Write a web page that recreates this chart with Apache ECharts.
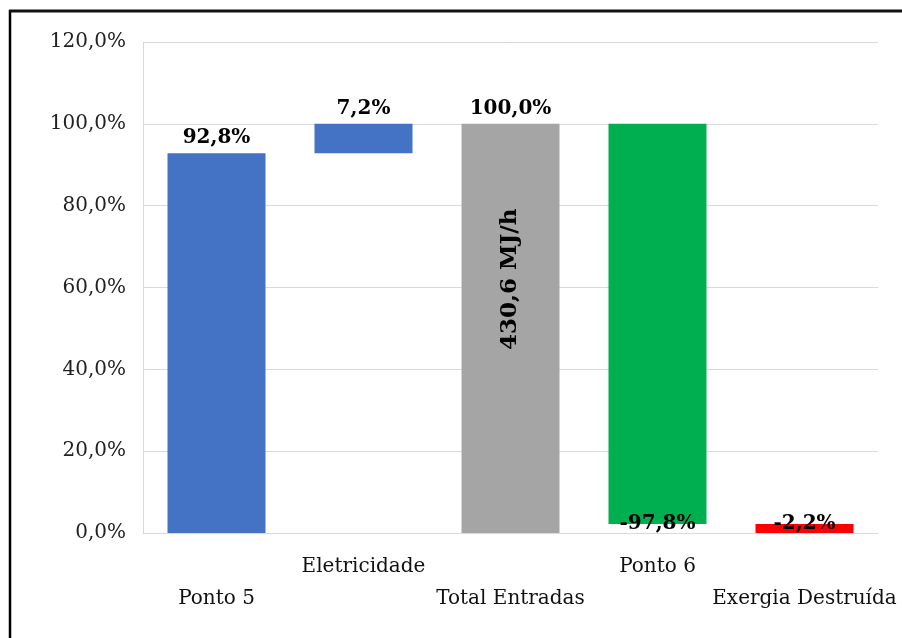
<!DOCTYPE html>
<html>
<head>
<meta charset="utf-8">
<script src="https://cdn.jsdelivr.net/npm/echarts@6/dist/echarts.min.js"></script>
<style>
  html, body { margin: 0; padding: 0; background: #fff; }
  #chart { width: 902px; height: 638px; }
</style>
</head>
<body>
<div id="chart"></div>
<script>
// Exergy balance (waterfall): inputs, total, outputs and destroyed exergy
const categories = ['Ponto 5', 'Eletricidade', 'Total Entradas', 'Ponto 6', 'Exergia Destruída'];
const values = [92.8, 7.2, 100.0, -97.8, -2.2];          // % of total exergy input
const isTotal = [false, false, true, false, false];
const barColors = ['#4472C4', '#4472C4', '#A5A5A5', '#00B050', '#FF0000'];
const totalNote = [null, null, '430,6 MJ/h', null, null];
const yTicks = { min: 0, max: 120, interval: 20 };

// Floating base and visible height for each step of the waterfall
const bases = [];
const heights = [];
let running = 0;
values.forEach((v, i) => {
  if (isTotal[i]) {
    bases.push(0);
    heights.push(v);
    running = v;
  } else {
    const next = running + v;
    bases.push(Math.min(running, next));
    heights.push(Math.abs(v));
    running = next;
  }
});

const fmtPct = v => v.toFixed(1).replace('.', ',') + '%';
const serif = 'DejaVu Serif';

const labelFor = i => {
  const base = {
    show: true,
    color: '#000',
    fontFamily: serif,
    fontWeight: 'bold',
    fontSize: 20,
    formatter: () => fmtPct(values[i])
  };
  if (values[i] < 0) {
    // negative steps: value written at the lower edge of the bar
    return Object.assign(base, {
      position: values[i] < -10 ? ['50%', '100%'] : ['50%', '0%'],
      align: 'center',
      verticalAlign: 'middle'
    });
  }
  return Object.assign(base, { position: 'top', distance: 5 });
};

const chart = echarts.init(document.getElementById('chart'), null, { renderer: 'canvas' });

chart.setOption({
  backgroundColor: '#fff',
  animation: false,
  grid: { left: 143, right: 24, top: 42, bottom: 105 },
  xAxis: {
    type: 'category',
    data: categories,
    axisLine: { show: true, lineStyle: { color: '#d9d9d9', width: 1 } },
    axisTick: { show: false },
    axisLabel: {
      interval: 0,
      margin: 24,
      formatter: (v, i) => (i % 2 === 1 ? '{up|' + v + '}' : '{dn|' + v + '}'),
      rich: {
        up: { fontFamily: serif, fontSize: 20, color: '#111', padding: [0, 0, 0, 0] },
        dn: { fontFamily: serif, fontSize: 20, color: '#111', padding: [32, 0, 0, 0] }
      }
    }
  },
  yAxis: {
    type: 'value',
    min: yTicks.min,
    max: yTicks.max,
    interval: yTicks.interval,
    axisLine: { show: true, lineStyle: { color: '#d9d9d9', width: 1 } },
    axisTick: { show: false },
    splitLine: { show: true, lineStyle: { color: '#d9d9d9', width: 1 } },
    axisLabel: {
      margin: 17,
      fontFamily: serif,
      fontSize: 20,
      color: '#222',
      formatter: v => fmtPct(v)
    }
  },
  series: [
    {
      name: 'base',
      type: 'bar',
      stack: 'w',
      barWidth: 98,
      itemStyle: { color: 'transparent' },
      silent: true,
      data: bases
    },
    {
      name: 'valor',
      type: 'bar',
      stack: 'w',
      barWidth: 98,
      data: heights.map((h, i) => ({
        value: h,
        itemStyle: { color: barColors[i] },
        label: labelFor(i)
      }))
    },
    {
      name: 'nota',
      type: 'bar',
      barWidth: 98,
      barGap: '-100%',
      silent: true,
      itemStyle: { color: 'transparent' },
      data: heights.map((h, i) => (totalNote[i] ? {
        value: h,
        label: {
          show: true,
          position: ['50%', '38%'],
          align: 'center',
          verticalAlign: 'middle',
          rotate: 90,
          color: '#000',
          fontFamily: serif,
          fontWeight: 'bold',
          fontSize: 23,
          formatter: () => totalNote[i]
        }
      } : null))
    }
  ],
  graphic: [
    { type: 'line', shape: { x1: 10, y1: 10, x2: 10, y2: 638 }, style: { stroke: '#000', lineWidth: 2.5 } },
    { type: 'line', shape: { x1: 9, y1: 11, x2: 902, y2: 11 }, style: { stroke: '#111', lineWidth: 3 } }
  ]
});
</script>
</body>
</html>
